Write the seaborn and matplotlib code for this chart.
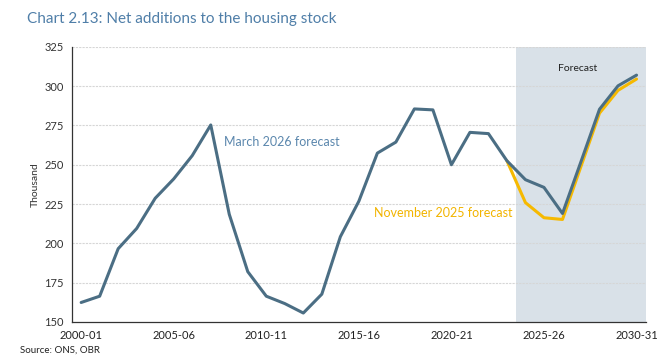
import numpy as np
import matplotlib
matplotlib.use("Agg")
import matplotlib.pyplot as plt
import seaborn as sns
import pandas as pd

# financial years 2000-01 .. 2030-31
years = [f"{y}-{(y + 1) % 100:02d}" for y in range(2000, 2031)]

march_2026 = [162.4, 166.4, 196.6, 209.5, 228.7, 241.0, 255.8, 275.3, 218.5, 182.0,
              166.4, 161.7, 155.7, 167.7, 204.2, 226.8, 257.4, 264.4, 285.5, 284.9,
              250.0, 270.6, 269.8, 252.5, 240.5, 235.6, 219.0, 252.0, 285.3, 300.2,
              307.0]
nov_2025 = [252.5, 225.9, 216.3, 215.2, 249.0, 282.8, 297.3, 304.5]
nov_start = 23
forecast_start = 24

tick_labels = ["2000-01", "2005-06", "2010-11", "2015-16", "2020-21", "2025-26", "2030-31"]

df_march = pd.DataFrame({"x": np.arange(len(march_2026)), "value": march_2026})
df_nov = pd.DataFrame({"x": np.arange(nov_start, nov_start + len(nov_2025)), "value": nov_2025})

sns.set_style("white")
plt.rcParams["font.family"] = ["Lato", "DejaVu Sans"]

fig = plt.figure(figsize=(6.72, 3.63), dpi=100)
ax = fig.add_axes([0.107, 0.113, 0.854, 0.758])

# forecast shading
ax.axvspan(forecast_start - 0.5, len(years) - 0.5, color="#d9e1e8", zorder=0, lw=0)

for yv in [175, 200, 225, 250, 275, 300, 325]:
    ax.axhline(yv, color="#d6d6d6", lw=0.8, ls=(0, (2, 1)), zorder=0.5)

sns.lineplot(data=df_nov, x="x", y="value", ax=ax, color="#f6b900", lw=2.2, zorder=2)
sns.lineplot(data=df_march, x="x", y="value", ax=ax, color="#4b6e84", lw=2.2, zorder=3)

ax.set_xlim(-0.5, len(years) - 0.5)
ax.set_ylim(150, 325)
ax.set_yticks(np.arange(150, 326, 25))
ax.tick_params(axis="y", labelsize=8, length=4, width=0.8, colors="#333333", pad=2)

ax.set_xticks(np.arange(-0.5, len(years), 1.0))
ax.set_xticklabels([])
ax.tick_params(axis="x", which="major", length=4, width=0.8, color="#333333")
label_pos = [years.index(l) for l in tick_labels]
ax.set_xticks(label_pos, minor=True)
ax.set_xticklabels(tick_labels, minor=True)
ax.tick_params(axis="x", which="minor", length=0, labelsize=8, labelcolor="#222222", pad=6)

ax.set_xlabel("")
ax.set_ylabel("Thousand", fontsize=7.5, color="#333333", labelpad=3)

for s in ["top", "right"]:
    ax.spines[s].set_visible(False)
for s in ["left", "bottom"]:
    ax.spines[s].set_color("#333333")
    ax.spines[s].set_linewidth(0.9)

ax.text(26.8, 311.5, "Forecast", fontsize=7.5, color="#222222", ha="center", va="center")
ax.text(7.7, 264.5, "March 2026 forecast", fontsize=9, color="#5b87ad", ha="left", va="center")
ax.text(15.8, 219.3, "November 2025 forecast", fontsize=9, color="#f2b400", ha="left", va="center")

fig.text(0.040, 0.948, "Chart 2.13: Net additions to the housing stock", fontsize=11,
         color="#4f7ea8", ha="left", va="center")
fig.text(0.030, 0.036, "Source: ONS, OBR", fontsize=7, color="#222222", ha="left", va="center")

fig.savefig("out.png", dpi=100)
